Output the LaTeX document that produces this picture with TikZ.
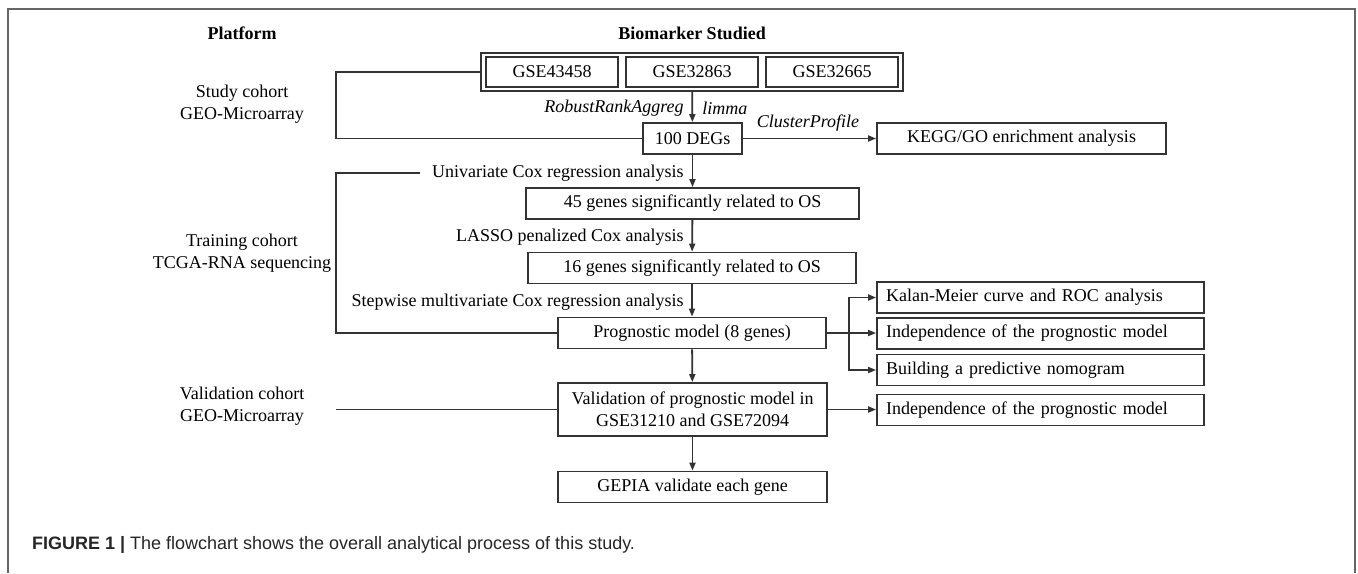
\documentclass[tikz,border=0pt]{standalone}
\usepackage{fontspec}
\setmainfont{Liberation Serif}
\newfontfamily\capfont{Liberation Sans}
\usepackage{tikz}
\usetikzlibrary{arrows.meta}
\newcommand\figfont{\fontsize{9}{11}\selectfont}

\begin{document}
\begin{tikzpicture}[x=0.5pt,y=-0.5pt,
  every node/.style={font=\figfont},
  box/.style={draw=black!80, line width=0.9pt, minimum height=15.5pt, inner sep=0pt},
  sidebox/.style={box, inner xsep=4.5pt, text width=154.5pt, align=left},
  lbl/.style={inner sep=1pt},
  link/.style={draw=black!80, line width=0.9pt},
  arr/.style={link, -{Triangle[length=4pt,width=3pt]}},
  tip/.style={link, {Triangle[length=4pt,width=3pt]}-{Triangle[length=4pt,width=3pt]}}]
\useasboundingbox (0,0) rectangle (1358,573);
\draw[black!60, line width=0.75pt] (8,573) -- (8,9) -- (1355,9) -- (1355,573);

\node[font=\figfont\bfseries] (plathead) at (242,33) {Platform};
\node[font=\figfont\bfseries] (biohead) at (692,33) {Biomarker Studied};
\node[align=center] (study) at (242,104) {Study cohort\\GEO-Microarray};
\node[align=center] (training) at (242,253) {Training cohort\\TCGA-RNA sequencing};
\node[align=center] (validation) at (242,406) {Validation cohort\\GEO-Microarray};

\node[box, minimum width=211pt, minimum height=19pt] (gseall) at (692,72) {};
\node[box, minimum width=66pt, minimum height=15pt] (gsea) at (552,72) {GSE43458};
\node[box, minimum width=66pt, minimum height=15pt] (gseb) at (692,72) {GSE32863};
\node[box, minimum width=66pt, minimum height=15pt] (gsec) at (832,72) {GSE32665};

\node[box, minimum width=49.5pt] (degs) at (692.5,138.5) {100 DEGs};
\node[box, minimum width=144.5pt] (kegg) at (1021.5,138.5) {KEGG/GO enrichment analysis};
\node[box, minimum width=166.5pt] (uni) at (692.5,203.5) {45 genes significantly related to OS};
\node[box, minimum width=164pt] (lasso) at (692,268) {16 genes significantly related to OS};
\node[box, minimum width=134pt] (model) at (692,333) {Prognostic model (8 genes)};
\node[box, minimum width=134.5pt, minimum height=26.5pt, align=center] (valid) at (692.5,409.5) {Validation of prognostic model in\\GSE31210 and GSE72094};
\node[box, minimum width=134.5pt] (gepia) at (692.5,487) {GEPIA validate each gene};

\node[sidebox] (kalan) at (1040.5,297.5) {Kalan-Meier curve and ROC analysis};
\node[sidebox] (indepa) at (1040.5,333.5) {Independence of the prognostic model};
\node[sidebox] (nomo) at (1040.5,370) {Building a predictive nomogram};
\node[sidebox] (indepb) at (1040.5,410) {Independence of the prognostic model};

\node[lbl, anchor=east, font=\figfont\itshape] (rra) at (686,108) {RobustRankAggreg};
\node[lbl, anchor=west, font=\figfont\itshape] (limma) at (700,108) {limma};
\node[lbl, font=\figfont\itshape] (cprof) at (808,123) {ClusterProfile};
\node[lbl, anchor=east] (univ) at (686,173) {Univariate Cox regression analysis};
\node[lbl, anchor=east] (lassolbl) at (686,237) {LASSO penalized Cox analysis};
\node[lbl, anchor=east] (stepw) at (686,302) {Stepwise multivariate Cox regression analysis};

\coordinate (studyx) at (336,72);
\coordinate (valstart) at (336,409.5);
\coordinate (fork) at (849,333);

\draw[link] (gseall.west) -| (studyx |- degs.west) -- (degs.west);
\draw[link] ([xshift=-5pt]univ.west) -| (studyx |- model.west) -- (model.west);
\draw[link] (valstart) -- (valid.west);

\draw[arr] (gseall) -- (degs);
\draw[arr] (degs) -- (kegg);
\draw[arr] (degs) -- (uni);
\draw[arr] (uni) -- (lasso);
\draw[arr] (lasso) -- (model);
\draw[arr] (model) -- (valid);
\draw[arr] (valid) -- (gepia);
\draw[arr] (model.east) -- (model.east -| indepa.west);
\draw[tip] (kalan.west) -| (fork) |- (nomo.west);
\draw[arr] (valid.east) -- (valid.east -| indepb.west);

\node[anchor=west, text=black!85, font=\capfont\fontsize{9}{11}\selectfont] (caption) at (25,545) {\textbf{FIGURE 1 |} The flowchart shows the overall analytical process of this study.};
\end{tikzpicture}
\end{document}
